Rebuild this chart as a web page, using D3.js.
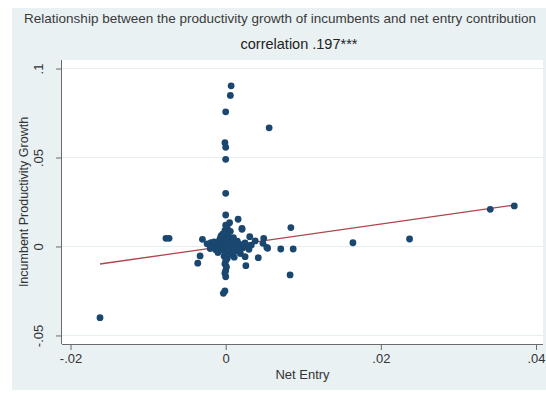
<!DOCTYPE html>
<html>
<head>
<meta charset="utf-8">
<script src="https://cdn.jsdelivr.net/npm/d3@7/dist/d3.min.js"></script>
<style>
  html, body { margin: 0; padding: 0; background: #ffffff; }
  svg { display: block; font-family: "Liberation Sans", Arial, sans-serif; }
</style>
</head>
<body>
<svg id="chart" width="546" height="394"></svg>
<script>
// Net entry contribution (x) and incumbent productivity growth (y)
const netEntry = [
  -0.0162, -0.0077, -0.0073, 0.0007, 0.0006, 0.0000, 0.0056, -0.0001, 0.0000, 0.0000,
  0.0000, 0.0084, 0.0000, 0.0016, 0.0005, 0.0021, -0.0030, -0.0019, -0.0033, -0.0036,
  0.0025, 0.0026, 0.0042, 0.0000, -0.0001, -0.0003, 0.0083, 0.0071, 0.0087, 0.0054,
  0.0048, 0.0038, 0.0033, 0.0030, 0.0164, 0.0237, 0.0341, 0.0372, 0.0049, 0.0031,
  0.0053, 0.0021, 0.0000, 0.0002, -0.0001, 0.0001, 0.0003, -0.0002, 0.0000, 0.0004,
  -0.0004, 0.0006, -0.0008, 0.0010, -0.0012, 0.0014, 0.0000, -0.0005, 0.0005, 0.0000,
  -0.0002, 0.0002, 0.0000, -0.0001, 0.0001, 0.0000, -0.0001, 0.0018, 0.0022, -0.0016,
  -0.0020, 0.0009, -0.0008, 0.0012, -0.0010, 0.0025, 0.0015, -0.0024, 0.0008, -0.0006,
  0.0028, 0.0019, 0.0000, 0.0003, -0.0003, 0.0011, 0.0006, -0.0013, 0.0013, -0.0007,
  0.0007, 0.0017, -0.0015, 0.0004, -0.0004, 0.0023, 0.0010
];
const incumbentGrowth = [
  -0.0400, 0.0046, 0.0046, 0.0903, 0.0849, 0.0757, 0.0667, 0.0583, 0.0557, 0.0490,
  0.0299, 0.0106, 0.0177, 0.0153, 0.0134, 0.0097, 0.0040, 0.0021, -0.0053, -0.0094,
  -0.0057, -0.0108, -0.0063, -0.0170, -0.0250, -0.0263, -0.0160, -0.0014, -0.0014, -0.0010,
  0.0018, 0.0031, 0.0008, -0.0016, 0.0021, 0.0042, 0.0209, 0.0228, 0.0046, 0.0055,
  -0.0005, 0.0102, 0.0120, 0.0105, 0.0090, 0.0075, 0.0062, 0.0050, 0.0038, 0.0030,
  0.0022, 0.0015, 0.0010, 0.0005, -0.0002, -0.0004, -0.0010, -0.0020, -0.0028, -0.0040,
  -0.0055, -0.0068, -0.0082, -0.0098, -0.0115, -0.0135, -0.0150, 0.0012, -0.0008, 0.0008,
  -0.0012, 0.0040, 0.0035, -0.0025, -0.0035, 0.0020, 0.0030, 0.0015, -0.0045, 0.0060,
  0.0000, -0.0040, 0.0000, -0.0005, 0.0003, -0.0060, 0.0085, -0.0018, 0.0025, 0.0045,
  -0.0030, -0.0020, 0.0026, -0.0015, 0.0070, 0.0005, 0.0050
];

// Linear fit shown over the range of the data
const fitIntercept = 0.0002;
const fitSlope = 0.62;

const xTicks = [-0.02, 0, 0.02, 0.04];
const xTickLabels = ["-.02", "0", ".02", ".04"];
const yTicks = [-0.05, 0, 0.05, 0.1];
const yTickLabels = ["-.05", "0", ".05", ".1"];

const titleText = "Relationship between the productivity growth of incumbents and net entry contribution";
const subtitleText = "correlation .197***";
const xTitle = "Net Entry";
const yTitle = "Incumbent Productivity Growth";

const points = netEntry.map((x, i) => ({ x, y: incumbentGrowth[i] }));

const svg = d3.select("#chart");
const plot = { left: 62, right: 543, top: 60, bottom: 344 };

const x = d3.scaleLinear()
  .domain([-0.0211, 0.0409])
  .range([plot.left, plot.right]);
const y = d3.scaleLinear()
  .domain([-0.0548, 0.1048])
  .range([plot.bottom, plot.top]);

// graph region background
svg.append("rect")
  .attr("x", 12).attr("y", 8)
  .attr("width", 534).attr("height", 382)
  .attr("fill", "#e9f1f3");

// plot region
svg.append("rect")
  .attr("x", plot.left).attr("y", plot.top)
  .attr("width", plot.right - plot.left).attr("height", plot.bottom - plot.top)
  .attr("fill", "#ffffff");

// horizontal grid lines
svg.append("g")
  .selectAll("line")
  .data(yTicks)
  .join("line")
  .attr("x1", plot.left).attr("x2", plot.right)
  .attr("y1", d => y(d)).attr("y2", d => y(d))
  .attr("stroke", "#e6eef0")
  .attr("stroke-width", 1);

// x axis
const xAxis = d3.axisBottom(x)
  .tickValues(xTicks)
  .tickFormat((d, i) => xTickLabels[i])
  .tickSize(6)
  .tickPadding(4)
  .tickSizeOuter(0);
const gx = svg.append("g")
  .attr("transform", `translate(0,${plot.bottom})`)
  .call(xAxis);
gx.select(".domain").attr("d", `M${plot.left},0.5H${plot.right}`).attr("stroke", "#6b6b6b");
gx.selectAll(".tick line").attr("stroke", "#6b6b6b");
gx.selectAll(".tick text")
  .attr("font-size", 13)
  .attr("fill", "#333333")
  .attr("font-family", "Liberation Sans, Arial, sans-serif");

// y axis
const yAxis = d3.axisLeft(y)
  .tickValues(yTicks)
  .tickFormat((d, i) => yTickLabels[i])
  .tickSize(6)
  .tickSizeOuter(0);
const gy = svg.append("g")
  .attr("transform", `translate(${plot.left},0)`)
  .call(yAxis);
gy.select(".domain").attr("d", `M-0.5,${plot.top}V${plot.bottom}`).attr("stroke", "#6b6b6b");
gy.selectAll(".tick line").attr("stroke", "#6b6b6b");
gy.selectAll(".tick text")
  .attr("x", null).attr("dy", null)
  .attr("text-anchor", "middle")
  .attr("transform", "translate(-19,0) rotate(-90)")
  .attr("font-size", 13)
  .attr("fill", "#333333")
  .attr("font-family", "Liberation Sans, Arial, sans-serif");

// fitted line
const fitX = d3.extent(netEntry);
svg.append("line")
  .attr("x1", x(fitX[0])).attr("y1", y(fitIntercept + fitSlope * fitX[0]))
  .attr("x2", x(fitX[1])).attr("y2", y(fitIntercept + fitSlope * fitX[1]))
  .attr("stroke", "#b0434b")
  .attr("stroke-width", 1.3);

// scatter markers
svg.append("g")
  .selectAll("circle")
  .data(points)
  .join("circle")
  .attr("cx", d => x(d.x))
  .attr("cy", d => y(d.y))
  .attr("r", 3.4)
  .attr("fill", "#1a476f");

// titles
svg.append("text")
  .attr("x", 280).attr("y", 23)
  .attr("text-anchor", "middle")
  .attr("font-size", 13.5)
  .attr("fill", "#3a3a3a")
  .text(titleText);
svg.append("text")
  .attr("x", 299).attr("y", 49)
  .attr("text-anchor", "middle")
  .attr("font-size", 14.5)
  .attr("fill", "#222222")
  .text(subtitleText);
svg.append("text")
  .attr("x", (plot.left + plot.right) / 2).attr("y", 379)
  .attr("text-anchor", "middle")
  .attr("font-size", 13)
  .attr("fill", "#333333")
  .text(xTitle);
svg.append("text")
  .attr("transform", `translate(28,${(plot.top + plot.bottom) / 2}) rotate(-90)`)
  .attr("text-anchor", "middle")
  .attr("font-size", 12.5)
  .attr("fill", "#333333")
  .text(yTitle);
</script>
</body>
</html>
